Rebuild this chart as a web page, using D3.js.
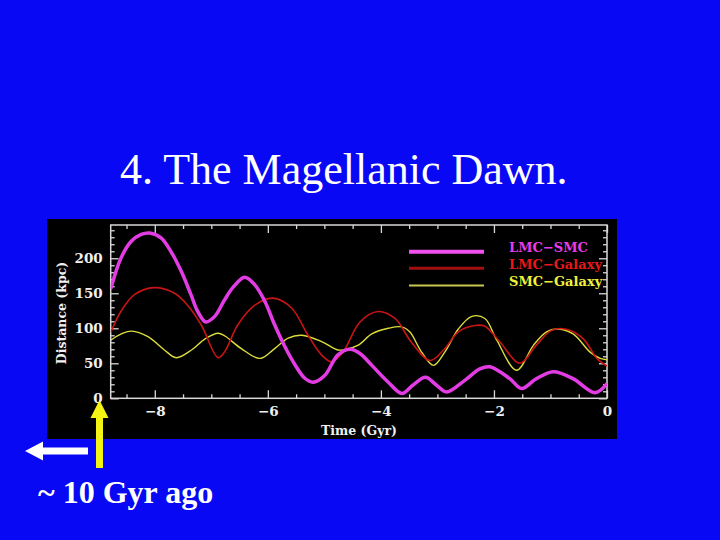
<!DOCTYPE html>
<html><head><meta charset="utf-8">
<script src="https://cdn.jsdelivr.net/npm/d3@7"></script>
<style>html,body{margin:0;padding:0;background:#0808f4;} svg{display:block}</style>
</head><body><svg id="c" width="720" height="540"></svg>
<script>
const titleText = "4. The Magellanic Dawn.";
const noteText = "~ 10 Gyr ago";
const xTitle = "Time (Gyr)";
const yTitle = "Distance (kpc)";
const seriesNames = ["LMC−SMC", "LMC−Galaxy", "SMC−Galaxy"];

const lmcSmcTime = [-8.78,-8.60,-8.42,-8.24,-8.09,-7.89,-7.71,-7.53,-7.36,-7.24,-7.10,-6.94,-6.77,-6.62,-6.41,-6.23,-6.05,-5.88,-5.70,-5.52,-5.35,-5.20,-4.99,-4.76,-4.54,-4.37,-4.16,-3.87,-3.63,-3.43,-3.21,-3.02,-2.84,-2.51,-2.25,-2.07,-1.72,-1.51,-1.25,-0.95,-0.60,-0.21,0];
const lmcSmcDist = [156,200,224,234,236,229,209,181,148,124,109,117,140,158,173,162,138,105,74,48,29,23,33,62,70,64,47,23,7,19,30,19,9,26,42,45,28,14,28,38,28,8,21];

const lmcGalTime = [-8.78,-8.60,-8.36,-8.01,-7.65,-7.42,-7.18,-6.88,-6.76,-6.53,-6.23,-5.91,-5.58,-5.29,-5.05,-4.87,-4.67,-4.37,-4.05,-3.75,-3.46,-3.13,-2.88,-2.63,-2.34,-2.16,-1.89,-1.54,-1.25,-0.98,-0.74,-0.42,-0.18,0];
const lmcGalDist = [94,124,148,158,150,133,105,58,67,105,133,143,129,90,62,52,66,109,124,114,80,54,70,95,104,103,80,50,76,97,99,85,57,46];

const smcGalTime = [-8.78,-8.59,-8.41,-8.12,-7.83,-7.62,-7.35,-7.11,-6.88,-6.76,-6.47,-6.14,-5.88,-5.64,-5.40,-5.05,-4.76,-4.62,-4.40,-4.16,-3.87,-3.63,-3.49,-3.28,-3.07,-2.87,-2.63,-2.39,-2.16,-1.95,-1.60,-1.30,-1.07,-0.89,-0.60,-0.30,-0.12,0];
const smcGalDist = [83,92,96,88,69,58,69,85,93,89,71,57,71,86,90,81,69,70,76,92,100,102,95,66,47,66,99,117,114,83,40,76,95,99,92,66,57,55];

const xMajorTicks = [-8,-6,-4,-2,0];
const xMinorTicks = [-8.5,-7.5,-7,-6.5,-5.5,-5,-4.5,-3.5,-3,-2.5,-1.5,-1,-0.5];
const yMajorTicks = [0,50,100,150,200];
const yMinorTicks = [10,20,30,40,60,70,80,90,110,120,130,140,160,170,180,190,210,220,230,240];

const seriesColors = ["#e43ce4", "#c81414", "#dcdc3c"];
const legendLineColors = ["#f050f0", "#a01010", "#c8c850"];
const legendTextColors = ["#e83ce8", "#e81818", "#f0f03c"];
const seriesWidths = [3.5, 1.6, 1.4];
const legendWidths = [4, 3, 2];

const svg = d3.select("#c");
const W = 720, H = 540;
svg.append("rect").attr("width", W).attr("height", H).attr("fill", "#0808f4");

svg.append("text").attr("x", 120).attr("y", 184)
  .attr("font-family", "'Liberation Serif','Times New Roman',serif").attr("font-size", 44)
  .attr("fill", "#fff").text(titleText);

svg.append("rect").attr("x", 47).attr("y", 219).attr("width", 570).attr("height", 220).attr("fill", "#000");

const L = 110.7, R = 607, T = 225, B = 398.3;
const x = d3.scaleLinear().domain([-8.78, 0]).range([L, R]);
const y = d3.scaleLinear().domain([0, 247.5]).range([B, T]);

const tickFont = "'DejaVu Serif',serif";
const axisColor = "#d8d8d8";

function styleAxis(g, labels) {
  g.select(".domain").remove();
  g.selectAll(".tick line").attr("stroke", axisColor).attr("stroke-width", 1.3);
  g.selectAll(".tick text").attr("fill", labels ? "#f0f0f0" : "none")
    .attr("font-family", tickFont).attr("font-weight", "bold").attr("font-size", 13.5);
}
const fmt = d3.format("");

svg.append("g").attr("transform", `translate(0,${B})`)
  .call(d3.axisBottom(x).tickValues(xMajorTicks).tickSize(-8).tickSizeOuter(0).tickPadding(8.5).tickFormat(fmt))
  .call(g => styleAxis(g, true));
svg.append("g").attr("transform", `translate(0,${B})`)
  .call(d3.axisBottom(x).tickValues(xMinorTicks).tickSize(-4).tickSizeOuter(0).tickFormat(""))
  .call(g => styleAxis(g, false));
svg.append("g").attr("transform", `translate(0,${T})`)
  .call(d3.axisTop(x).tickValues(xMajorTicks).tickSize(-8).tickSizeOuter(0).tickFormat(""))
  .call(g => styleAxis(g, false));
svg.append("g").attr("transform", `translate(0,${T})`)
  .call(d3.axisTop(x).tickValues(xMinorTicks).tickSize(-4).tickSizeOuter(0).tickFormat(""))
  .call(g => styleAxis(g, false));
svg.append("g").attr("transform", `translate(${L},0)`)
  .call(d3.axisLeft(y).tickValues(yMajorTicks).tickSize(-8).tickSizeOuter(0).tickPadding(8).tickFormat(fmt))
  .call(g => styleAxis(g, true));
svg.append("g").attr("transform", `translate(${L},0)`)
  .call(d3.axisLeft(y).tickValues(yMinorTicks).tickSize(-4).tickSizeOuter(0).tickFormat(""))
  .call(g => styleAxis(g, false));
svg.append("g").attr("transform", `translate(${R},0)`)
  .call(d3.axisRight(y).tickValues(yMajorTicks).tickSize(-8).tickSizeOuter(0).tickFormat(""))
  .call(g => styleAxis(g, false));
svg.append("g").attr("transform", `translate(${R},0)`)
  .call(d3.axisRight(y).tickValues(yMinorTicks).tickSize(-4).tickSizeOuter(0).tickFormat(""))
  .call(g => styleAxis(g, false));

svg.append("rect").attr("x", L).attr("y", T).attr("width", R - L).attr("height", B - T)
  .attr("fill", "none").attr("stroke", axisColor).attr("stroke-width", 1.5);

svg.append("text").attr("transform", `translate(66,313) rotate(-90)`)
  .attr("text-anchor", "middle").attr("fill", "#f0f0f0")
  .attr("font-family", tickFont).attr("font-weight", "bold").attr("font-size", 12.5).text(yTitle);
svg.append("text").attr("x", 359).attr("y", 434.5)
  .attr("text-anchor", "middle").attr("fill", "#f0f0f0")
  .attr("font-family", tickFont).attr("font-weight", "bold").attr("font-size", 12.5).text(xTitle);

svg.append("clipPath").attr("id", "clip").append("rect")
  .attr("x", L).attr("y", T).attr("width", R - L).attr("height", B - T);

const series = [
  {name: seriesNames[0], t: lmcSmcTime, d: lmcSmcDist},
  {name: seriesNames[1], t: lmcGalTime, d: lmcGalDist},
  {name: seriesNames[2], t: smcGalTime, d: smcGalDist}
];
const line = d3.line().x(p => x(p[0])).y(p => y(p[1])).curve(d3.curveCatmullRom.alpha(0.5));
const drawOrder = [2, 1, 0];
const gLines = svg.append("g").attr("clip-path", "url(#clip)");
drawOrder.forEach(i => {
  const s = series[i];
  gLines.append("path").datum(s.t.map((t, k) => [t, s.d[k]]))
    .attr("d", line).attr("fill", "none").attr("stroke", seriesColors[i])
    .attr("stroke-width", seriesWidths[i]).attr("stroke-linejoin", "round");
});

const legY = [251.7, 268.3, 285.5];
series.forEach((s, i) => {
  svg.append("line").attr("x1", 409).attr("x2", 484).attr("y1", legY[i]).attr("y2", legY[i])
    .attr("stroke", legendLineColors[i]).attr("stroke-width", legendWidths[i]);
  svg.append("text").attr("x", 509).attr("y", legY[i] + 0.5)
    .attr("fill", legendTextColors[i]).attr("font-family", tickFont).attr("font-weight", "bold")
    .attr("font-size", 13).text(s.name);
});

svg.append("path")
  .attr("d", "M25,451 L43,441.5 L43,447.5 L88,447.5 L88,454.5 L43,454.5 L43,460.5 Z")
  .attr("fill", "#ffffff");
svg.append("path")
  .attr("d", "M99.5,400 L108.5,418 L103,418 L103,468 L96,468 L96,418 L90.5,418 Z")
  .attr("fill", "#f4f414");

svg.append("text").attr("x", 38).attr("y", 503)
  .attr("font-family", "'Liberation Serif','Times New Roman',serif").attr("font-weight", "bold")
  .attr("font-size", 32).attr("fill", "#fff").text(noteText);
</script>
</body></html>
